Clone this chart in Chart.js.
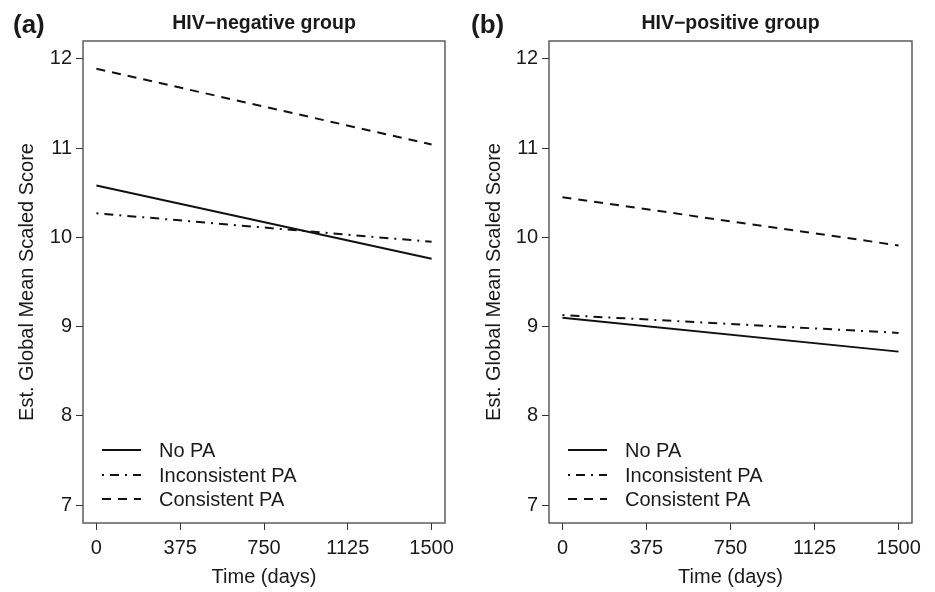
<!DOCTYPE html>
<html>
<head>
<meta charset="utf-8">
<script src="https://cdn.jsdelivr.net/npm/chart.js@4.4.1/dist/chart.umd.min.js"></script>
<style>
  html, body { margin: 0; padding: 0; background: #fff; }
  .panel { position: absolute; top: 0; height: 592px; }
</style>
</head>
<body>
<div class="panel" style="left:0;width:467px"><canvas id="negChart"></canvas></div>
<div class="panel" style="left:467px;width:468px"><canvas id="posChart"></canvas></div>
<script>
const days = [0, 1500];
const xTicks = [0, 375, 750, 1125, 1500];
const yTicks = [7, 8, 9, 10, 11, 12];
const groupLabels = ['No PA', 'Inconsistent PA', 'Consistent PA'];

// HIV-negative group
const negNoPA = [10.58, 9.76];
const negInconsistentPA = [10.27, 9.95];
const negConsistentPA = [11.89, 11.04];

// HIV-positive group
const posNoPA = [9.10, 8.72];
const posInconsistentPA = [9.13, 8.93];
const posConsistentPA = [10.45, 9.91];

const textColor = '#1a1a1a';
const lineStyles = [[], [2, 6, 9, 6], [9, 7]];

function toPoints(values) {
    return days.map((d, i) => ({ x: d, y: values[i] }));
}

// frame, panel tag, title and in-plot legend
const decorPlugin = {
    id: 'decor',
    afterDraw(chart, args, opts) {
        const ctx = chart.ctx;
        const area = chart.chartArea;
        ctx.save();
        ctx.strokeStyle = '#444';
        ctx.lineWidth = 1.3;
        ctx.strokeRect(area.left, area.top, area.right - area.left, area.bottom - area.top);

        ctx.fillStyle = textColor;
        ctx.font = 'bold 26px "Liberation Sans", Arial, sans-serif';
        ctx.textAlign = 'left';
        ctx.textBaseline = 'middle';
        ctx.fillText(opts.tag, opts.tagX, 26);

        ctx.font = 'bold 19.5px "Liberation Sans", Arial, sans-serif';
        ctx.textAlign = 'center';
        ctx.textBaseline = 'alphabetic';
        ctx.fillText(opts.title, (area.left + area.right) / 2, 28.5);

        // legend
        const rows = [-73, -48, -24];
        ctx.font = '20px "Liberation Sans", Arial, sans-serif';
        ctx.textAlign = 'left';
        ctx.textBaseline = 'middle';
        chart.data.datasets.forEach((ds, i) => {
            const y = area.bottom + rows[i];
            ctx.strokeStyle = ds.borderColor;
            ctx.lineWidth = ds.borderWidth;
            ctx.setLineDash(ds.borderDash);
            ctx.beginPath();
            ctx.moveTo(area.left + 19, y);
            ctx.lineTo(area.left + 58, y);
            ctx.stroke();
            ctx.setLineDash([]);
            ctx.fillStyle = textColor;
            ctx.fillText(ds.label, area.left + 76, y + 1);
        });
        ctx.restore();
    }
};

function makeChart(id, series, tag, tagX, title, yWidth, rightPad) {
    const ctx = document.getElementById(id).getContext('2d');
    return new Chart(ctx, {
        type: 'line',
        data: {
            datasets: series.map((values, i) => ({
                label: groupLabels[i],
                data: toPoints(values),
                borderColor: '#111',
                borderWidth: 2,
                borderDash: lineStyles[i],
                pointRadius: 0,
                fill: false,
                tension: 0
            }))
        },
        options: {
            responsive: true,
            maintainAspectRatio: false,
            animation: false,
            layout: { padding: { top: 41, right: rightPad, left: 0, bottom: 0 } },
            plugins: {
                legend: { display: false },
                tooltip: { enabled: false },
                decor: { tag: tag, tagX: tagX, title: title }
            },
            scales: {
                x: {
                    type: 'linear',
                    min: -60,
                    max: 1560,
                    afterBuildTicks: axis => { axis.ticks = xTicks.map(v => ({ value: v })); },
                    afterFit: axis => { axis.height = 69; },
                    border: { display: false },
                    grid: { drawOnChartArea: false, tickLength: 7, color: '#333', lineWidth: 1 },
                    ticks: {
                        color: textColor,
                        font: { size: 20, family: '"Liberation Sans", Arial, sans-serif' },
                        padding: 6,
                        maxRotation: 0,
                        callback: v => String(v)
                    },
                    title: {
                        display: true,
                        text: 'Time (days)',
                        color: textColor,
                        font: { size: 20, family: '"Liberation Sans", Arial, sans-serif' },
                        padding: { top: 0, bottom: 3 }
                    }
                },
                y: {
                    min: 6.8,
                    max: 12.2,
                    afterBuildTicks: axis => { axis.ticks = yTicks.map(v => ({ value: v })); },
                    afterFit: axis => { axis.width = yWidth; },
                    border: { display: false },
                    grid: { drawOnChartArea: false, tickLength: 7, color: '#333', lineWidth: 1 },
                    ticks: {
                        color: textColor,
                        font: { size: 20, family: '"Liberation Sans", Arial, sans-serif' },
                        padding: 4,
                        callback: v => String(v)
                    },
                    title: {
                        display: true,
                        text: 'Est. Global Mean Scaled Score',
                        color: textColor,
                        font: { size: 20, family: '"Liberation Sans", Arial, sans-serif' },
                        padding: { top: 15, bottom: 0 }
                    }
                }
            }
        },
        plugins: [decorPlugin]
    });
}

makeChart('negChart', [negNoPA, negInconsistentPA, negConsistentPA],
    '(a)', 13, 'HIV\u2212negative group', 83, 22);
makeChart('posChart', [posNoPA, posInconsistentPA, posConsistentPA],
    '(b)', 4, 'HIV\u2212positive group', 82, 23);
</script>
</body>
</html>
